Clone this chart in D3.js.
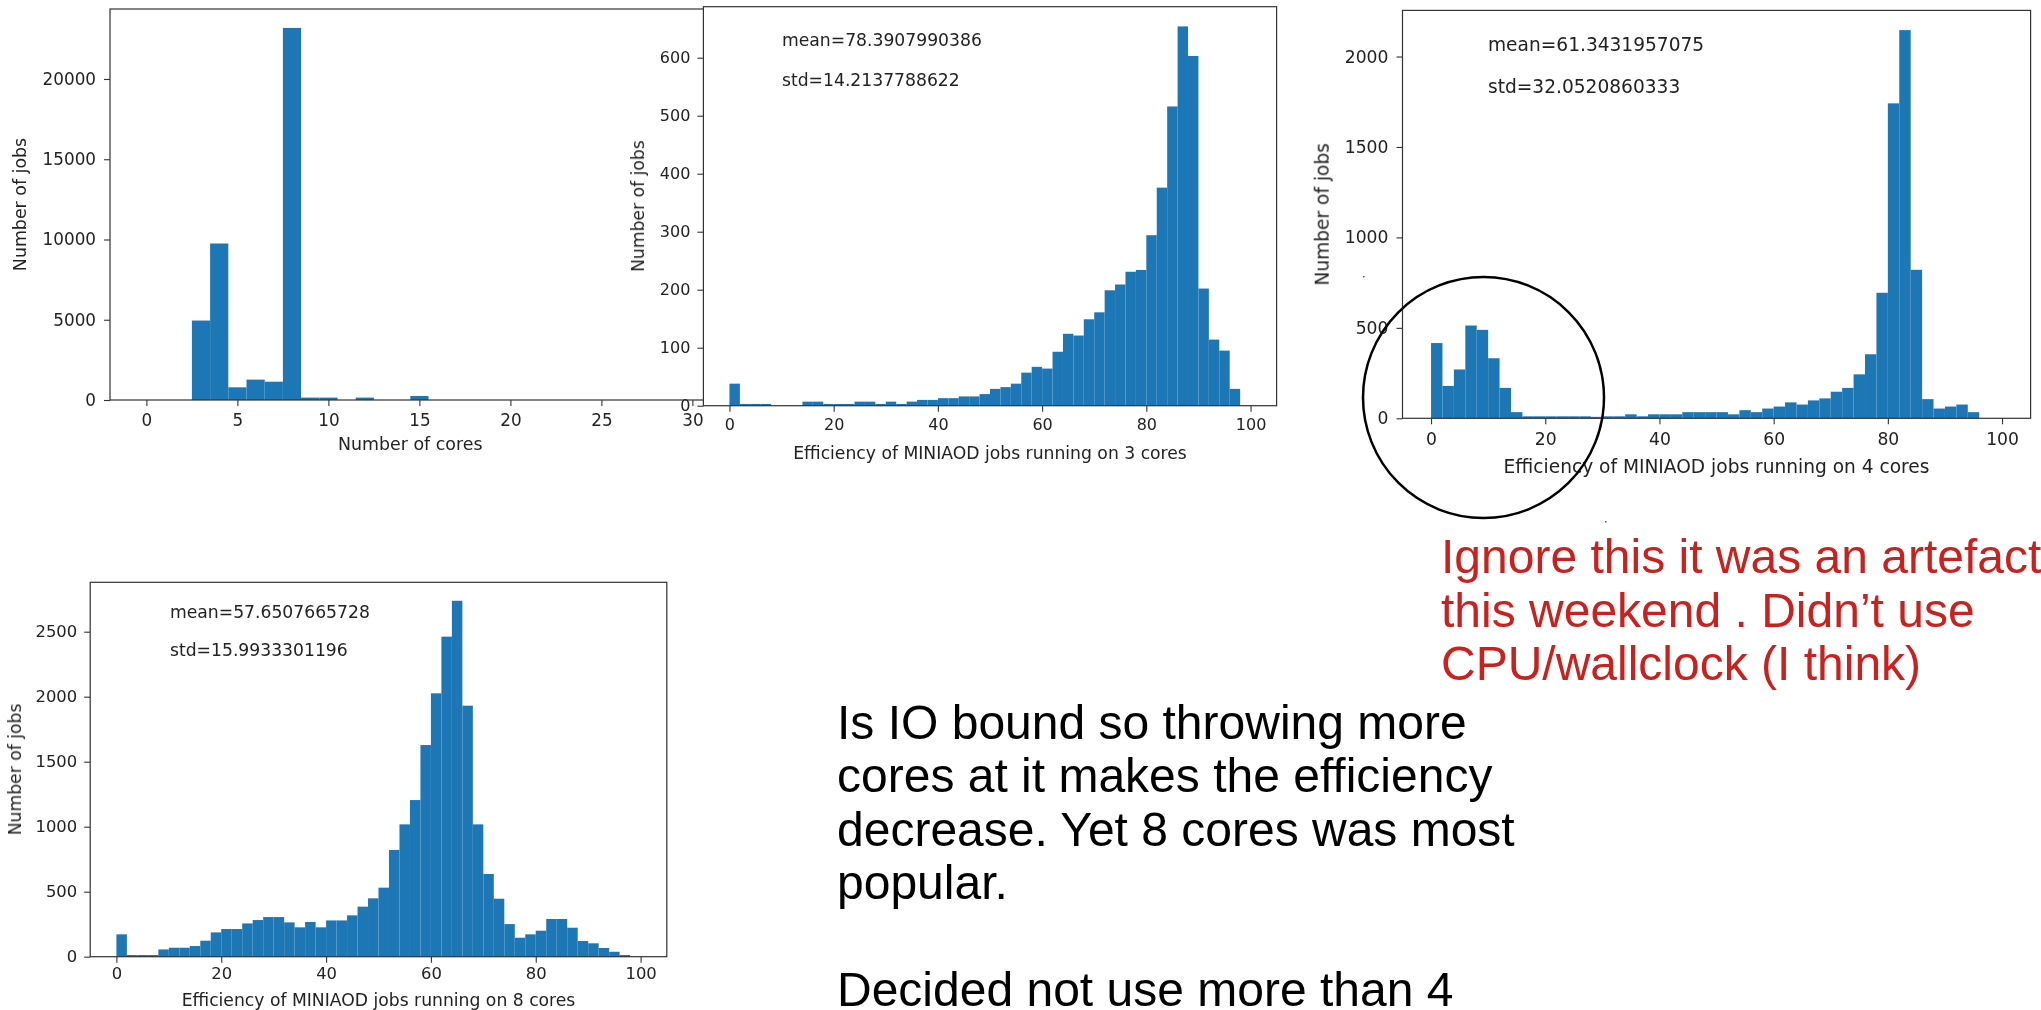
<!DOCTYPE html>
<html>
<head>
<meta charset="utf-8">
<script src="https://cdn.jsdelivr.net/npm/d3@7"></script>
<style>
  html, body { margin: 0; padding: 0; background: #fff; overflow: hidden; }
  svg { display: block; }
</style>
</head>
<body>
<svg id="page" width="2041" height="1010"></svg>
<script>
// ---- data ---------------------------------------------------------------
// Jobs per number of cores (unit-wide bins centred on each core count)
const coreCounts       = [3, 4, 5, 6, 7, 8, 9, 10, 12, 15];
const jobsPerCoreCount = [4950, 9750, 790, 1270, 1140, 23180, 150, 150, 150, 250];

// CPU efficiency histograms of MINIAOD jobs: 50 bins of width 2 covering 0..100
const effBinWidth = 2;
const eff3Cores = [38, 3, 3, 3, 0, 0, 0, 7, 7, 3,
                   3, 3, 7, 7, 3, 7, 3, 7, 10, 10,
                   13, 13, 16, 16, 20, 29, 32, 38, 57, 67,
                   64, 93, 124, 121, 149, 161, 199, 209, 231, 234,
                   294, 376, 516, 654, 603, 202, 114, 95, 29, 0];
const eff4Cores = [416, 179, 270, 513, 489, 332, 168, 34, 11, 11,
                   11, 11, 11, 11, 8, 11, 11, 22, 11, 22,
                   22, 22, 34, 34, 34, 34, 22, 45, 34, 54,
                   65, 88, 76, 99, 110, 147, 168, 243, 354, 694,
                   1741, 2146, 821, 106, 54, 65, 76, 34, 0, 0];
const eff8Cores = [172, 13, 13, 13, 56, 69, 69, 82, 123, 187,
                   213, 213, 256, 282, 305, 305, 264, 226, 267, 226,
                   279, 279, 318, 385, 449, 531, 821, 1018, 1205, 1628,
                   2026, 2462, 2738, 1931, 1018, 636, 446, 251, 146, 172,
                   200, 290, 290, 223, 121, 103, 67, 38, 13, 0];

const stats3 = ["mean=78.3907990386", "std=14.2137788622"];
const stats4 = ["mean=61.3431957075", "std=32.0520860333"];
const stats8 = ["mean=57.6507665728", "std=15.9933301196"];

// tick labels
const coreXTicks = [0, 5, 10, 15, 20, 25, 30];
const effXTicks  = [0, 20, 40, 60, 80, 100];
const coreYTicks = [0, 5000, 10000, 15000, 20000];
const eff3YTicks = [0, 100, 200, 300, 400, 500, 600];
const eff4YTicks = [0, 500, 1000, 1500, 2000];
const eff8YTicks = [0, 500, 1000, 1500, 2000, 2500];

const yAxisTitle = "Number of jobs";
const coreAxisTitle = "Number of cores";
const effAxisTitle = n => `Efficiency of MINIAOD jobs running on ${n} cores`;

const noteRed = ["Ignore this it was an artefact",
                 "this weekend . Didn\u2019t use",
                 "CPU/wallclock (I think)"];
const noteBlack = ["Is IO bound so throwing more",
                   "cores at it makes the efficiency",
                   "decrease. Yet 8 cores was most",
                   "popular.",
                   "",
                   "Decided not use more than 4"];

// ---- drawing ------------------------------------------------------------
const BAR = "#1f77b4";
const INK = "#222";
const FRAME = "#333";
const FONT = "DejaVu Sans";
const TICK = 6;

const svg = d3.select("#page");
svg.append("rect").attr("width", 2041).attr("height", 1010).attr("fill", "#fff");
svg.append("defs").append("filter").attr("id", "soft")
  .append("feGaussianBlur").attr("stdDeviation", 0.45);

function effBins(counts) {
  return counts.map((n, i) => ({ x0: i * effBinWidth, x1: (i + 1) * effBinWidth, n }));
}

function drawPanel(p) {
  const g = svg.append("g").attr("filter", "url(#soft)");
  const x = d3.scaleLinear().domain(p.xDomain).range([p.left, p.right]);
  const y = d3.scaleLinear().domain([0, p.yMax]).range([p.bottom, p.top]);

  // white axes face
  g.append("rect")
    .attr("x", p.left).attr("y", p.top)
    .attr("width", p.right - p.left).attr("height", p.bottom - p.top)
    .attr("fill", "#fff");

  // histogram bars
  g.append("g").selectAll("rect").data(p.bins).join("rect")
    .attr("x", d => x(d.x0))
    .attr("y", d => y(d.n))
    .attr("width", d => x(d.x1) - x(d.x0))
    .attr("height", d => y(0) - y(d.n))
    .attr("fill", BAR);

  // axes
  const ax = g.append("g").attr("transform", `translate(0,${p.bottom})`)
    .call(d3.axisBottom(x).tickValues(p.xTicks).tickSize(TICK).tickSizeOuter(0)
      .tickPadding(p.xPad).tickFormat(d3.format("d")));
  const ay = g.append("g").attr("transform", `translate(${p.left},0)`)
    .call(d3.axisLeft(y).tickValues(p.yTicks).tickSize(TICK).tickSizeOuter(0)
      .tickPadding(p.yPad).tickFormat(d3.format("d")));
  [ax, ay].forEach(a => {
    a.select(".domain").remove();
    a.selectAll("line").attr("stroke", FRAME).attr("stroke-width", 1.1);
    a.selectAll("text").attr("fill", INK)
      .style("font-family", FONT).style("font-size", p.tickFs + "px");
  });

  // frame
  g.append("rect")
    .attr("x", p.left).attr("y", p.top)
    .attr("width", p.right - p.left).attr("height", p.bottom - p.top)
    .attr("fill", "none").attr("stroke", FRAME).attr("stroke-width", 1.2);

  // axis titles
  g.append("text")
    .attr("x", (p.left + p.right) / 2).attr("y", p.xTitleY)
    .attr("text-anchor", "middle").attr("dominant-baseline", "central")
    .style("font-family", FONT).style("font-size", p.labelFs + "px")
    .attr("fill", INK).text(p.xTitle);
  g.append("text")
    .attr("transform", `translate(${p.yTitleX},${(p.top + p.bottom) / 2}) rotate(-90)`)
    .attr("text-anchor", "middle").attr("dominant-baseline", "central")
    .style("font-family", FONT).style("font-size", p.labelFs + "px")
    .attr("fill", INK).text(yAxisTitle);

  // summary statistics
  if (p.stats) {
    g.selectAll("text.stat").data(p.stats).join("text")
      .attr("class", "stat")
      .attr("x", p.statX)
      .attr("y", (d, i) => p.statY[i])
      .attr("dominant-baseline", "central")
      .style("font-family", FONT).style("font-size", p.labelFs + "px")
      .attr("fill", INK).text(d => d);
  }
}

// number of cores
drawPanel({
  bins: coreCounts.map((c, i) => ({ x0: c - 0.5, x1: c + 0.5, n: jobsPerCoreCount[i] })),
  xDomain: [-2, 31], yMax: 24360,
  left: 110, right: 710.6, top: 9, bottom: 400,
  xTicks: coreXTicks, yTicks: coreYTicks,
  xPad: 8, yPad: 8, tickFs: 16.8, labelFs: 17.4,
  xTitle: coreAxisTitle, xTitleY: 444, yTitleX: 20
});

// 3 cores
drawPanel({
  bins: effBins(eff3Cores),
  xDomain: [-5, 105], yMax: 688,
  left: 703.4, right: 1276.6, top: 6.7, bottom: 405.7,
  xTicks: effXTicks, yTicks: eff3YTicks,
  xPad: 7, yPad: 7, tickFs: 16, labelFs: 17.2,
  xTitle: effAxisTitle(3), xTitleY: 453, yTitleX: 638,
  stats: stats3, statX: 782, statY: [40, 80]
});

// 4 cores
drawPanel({
  bins: effBins(eff4Cores),
  xDomain: [-5, 105], yMax: 2255,
  left: 1402.5, right: 2030.6, top: 10.4, bottom: 418.3,
  xTicks: effXTicks, yTicks: eff4YTicks,
  xPad: 8, yPad: 8, tickFs: 17.2, labelFs: 18.6,
  xTitle: effAxisTitle(4), xTitleY: 466, yTitleX: 1321.7,
  stats: stats4, statX: 1488, statY: [44, 86]
});

// 8 cores
drawPanel({
  bins: effBins(eff8Cores),
  xDomain: [-5, 105], yMax: 2880,
  left: 90.2, right: 666.8, top: 582.3, bottom: 956.7,
  xTicks: effXTicks, yTicks: eff8YTicks,
  xPad: 5, yPad: 7, tickFs: 16.4, labelFs: 17.2,
  xTitle: effAxisTitle(8), xTitleY: 1000, yTitleX: 15,
  stats: stats8, statX: 170, statY: [612, 650]
});

// circled region on the 4-core panel
svg.append("ellipse")
  .attr("cx", 1483.5).attr("cy", 397.5).attr("rx", 120.5).attr("ry", 120.5)
  .attr("fill", "none").attr("stroke", "#000").attr("stroke-width", 2.5);
svg.selectAll("rect.speck").data([[1363, 276], [1605, 521]]).join("rect")
  .attr("class", "speck")
  .attr("x", d => d[0]).attr("y", d => d[1]).attr("width", 1.5).attr("height", 1.5)
  .attr("fill", "#555");

// notes
const NOTE_FONT = "Liberation Sans";
const NOTE_SIZE = 48;
const LINE = 53.5;
svg.append("g").selectAll("text").data(noteRed).join("text")
  .attr("x", 1441).attr("y", (d, i) => 573 + i * LINE)
  .style("font-family", NOTE_FONT).style("font-size", NOTE_SIZE + "px")
  .attr("fill", "#c9211e").text(d => d);
svg.append("g").selectAll("text").data(noteBlack).join("text")
  .attr("x", 837).attr("y", (d, i) => 738.5 + i * LINE)
  .style("font-family", NOTE_FONT).style("font-size", NOTE_SIZE + "px")
  .attr("fill", "#000").text(d => d);
</script>
</body>
</html>
